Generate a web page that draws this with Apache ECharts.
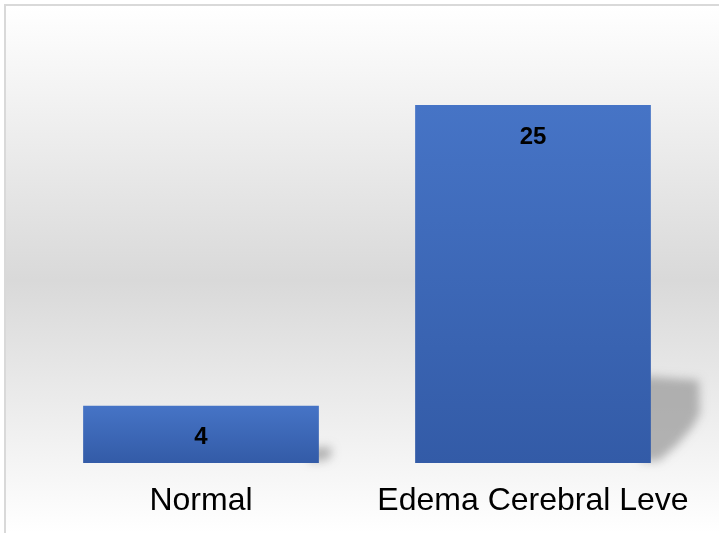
<!DOCTYPE html>
<html>
<head>
<meta charset="utf-8">
<script src="https://cdn.jsdelivr.net/npm/echarts@6/dist/echarts.min.js"></script>
<style>
  html, body { margin: 0; padding: 0; background: #ffffff; width: 719px; height: 533px; overflow: hidden; }
  #frame { position: absolute; left: 4px; top: 4px; width: 715px; height: 529px;
           border-left: 2px solid #d9d9d9; border-top: 2px solid #d9d9d9; box-sizing: border-box; }
  #chart { position: absolute; left: 6px; top: 6px; width: 713px; height: 527px; }
</style>
</head>
<body>
<div id="frame"></div>
<div id="chart"></div>
<script>
const categories = ['Normal', 'Edema Cerebral Leve'];
const values = [4, 25];

const chart = echarts.init(document.getElementById('chart'), null, { renderer: 'canvas' });
const BAR_RATIO = 0.71;
const SHIFT = 3000;

const option = {
  animation: false,
  backgroundColor: new echarts.graphic.LinearGradient(0, 0, 0, 1, [
    { offset: 0, color: '#ffffff' },
    { offset: 0.52, color: '#d9d9d9' },
    { offset: 1, color: '#ffffff' }
  ]),
  grid: { left: 29, right: 20, top: 99, bottom: 70 },
  xAxis: {
    type: 'category',
    data: categories,
    axisLine: { show: false },
    axisTick: { show: false },
    axisLabel: {
      color: '#000000',
      fontSize: 32,
      fontFamily: 'Liberation Sans, Arial, sans-serif',
      margin: 22,
      interval: 0
    }
  },
  yAxis: {
    type: 'value',
    min: 0,
    max: 25,
    show: false,
    splitLine: { show: false }
  },
  series: [
    {
      type: 'custom',
      z: 1,
      silent: true,
      clip: false,
      data: values.map((v, i) => [i, v]),
      renderItem: function (params, api) {
        const idx = api.value(0);
        const top = api.coord([idx, api.value(1)]);
        const base = api.coord([idx, 0]);
        const bw = api.size([1, 0])[0] * BAR_RATIO;
        const R = base[0] + bw / 2 + SHIFT;
        const B = base[1];
        const H = B - top[1];
        const hs = 0.24 * H + 4;
        const dx = Math.min(52, 0.13 * H + 8);
        const T = B - hs;
        return {
          type: 'polygon',
          culling: false,
          shape: {
            points: [
              [R - 10, T + 3],
              [R + dx - 4, T + 0.08 * hs],
              [R + dx - 3, T + 0.45 * hs],
              [R + dx * 0.8, T + 0.6 * hs],
              [R + dx * 0.5, T + 0.8 * hs],
              [R + dx * 0.15, B - 2],
              [R - 10, B - 2]
            ]
          },
          style: {
            fill: '#000000',
            shadowBlur: 10,
            shadowOffsetX: -SHIFT,
            shadowColor: 'rgba(150,150,150,0.7)'
          }
        };
      }
    },
    {
      type: 'bar',
      z: 2,
      data: values,
      barWidth: (BAR_RATIO * 100) + '%',
      itemStyle: {
        color: new echarts.graphic.LinearGradient(0, 0, 0, 1, [
          { offset: 0, color: '#4674c6' },
          { offset: 1, color: '#335ba7' }
        ])
      },
      label: {
        show: true,
        position: 'insideTop',
        distance: 20,
        color: '#000000',
        fontSize: 24,
        fontWeight: 'bold',
        fontFamily: 'Liberation Sans, Arial, sans-serif'
      }
    }
  ]
};
chart.setOption(option);
</script>
</body>
</html>
